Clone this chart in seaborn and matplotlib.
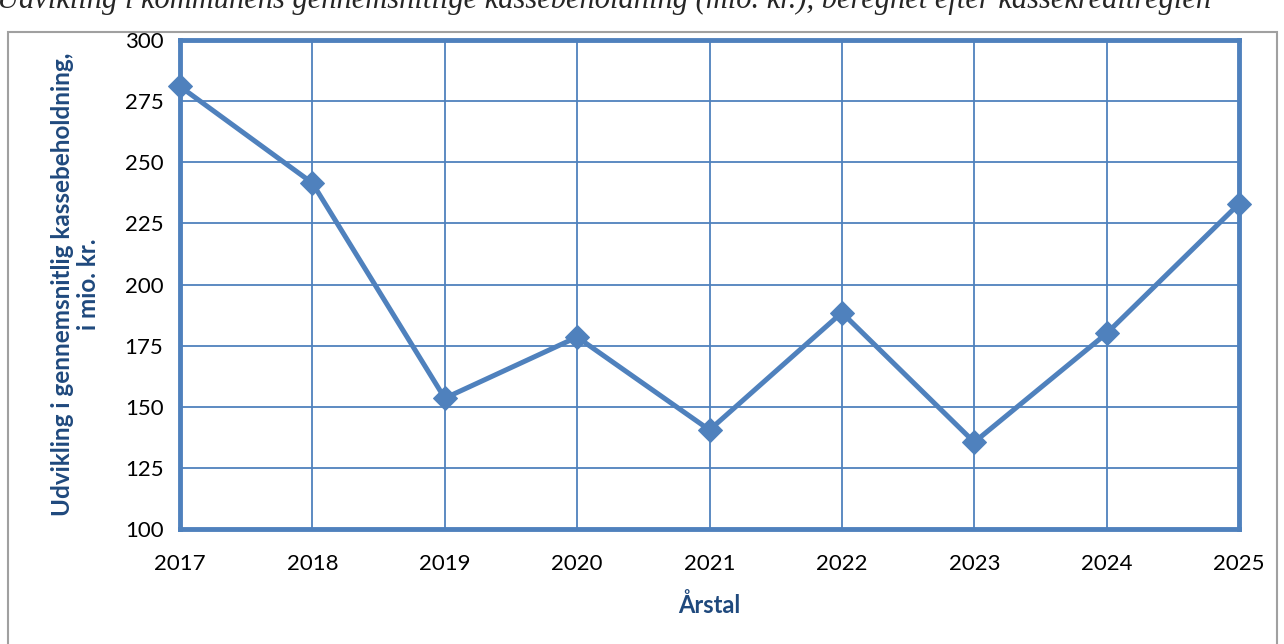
import matplotlib
matplotlib.use("Agg")
import matplotlib.pyplot as plt
import seaborn as sns
import pandas as pd
from matplotlib.patches import Rectangle

# data
years = [2017, 2018, 2019, 2020, 2021, 2022, 2023, 2024, 2025]
kasse = [281, 241.5, 153.5, 178.5, 140.5, 188.5, 135.5, 180, 233]
yticks = [100, 125, 150, 175, 200, 225, 250, 275, 300]

title = "Udvikling i kommunens gennemsnitlige kassebeholdning (mio. kr.), beregnet efter kassekreditreglen"
xlabel = "Årstal"
ylabel = "Udvikling i gennemsnitlig kassebeholdning,\ni mio. kr."

blue = "#4F81BD"
dark = "#1F497D"

sns.set_style("white")
plt.rcParams["font.family"] = ["Lato", "DejaVu Sans"]

df = pd.DataFrame({"year": years, "value": kasse})

fig = plt.figure(figsize=(12.84, 6.44), dpi=100)
ax = fig.add_axes([180 / 1284, 115 / 644, 1059 / 1284, 489 / 644])

sns.lineplot(data=df, x="year", y="value", ax=ax, color=blue, lw=3.6,
             marker="D", markersize=12, markeredgecolor=blue, zorder=5,
             clip_on=False)

ax.set_xlim(years[0], years[-1])
ax.set_ylim(yticks[0], yticks[-1])
ax.set_xticks(years)
ax.set_yticks(yticks)
ax.grid(True, color=blue, lw=1.3)
ax.set_axisbelow(True)
for s in ax.spines.values():
    s.set_visible(True)
    s.set_color(blue)
    s.set_linewidth(3.5)

ax.tick_params(axis="both", which="both", direction="out", length=6, width=1.2,
               color="#868686", labelsize=16, labelcolor="black")
ax.tick_params(axis="x", pad=12)
ax.tick_params(axis="y", pad=6)

ax.set_xlabel(xlabel, fontsize=17, fontweight="bold", color=dark, labelpad=14)
ax.set_ylabel(ylabel, fontsize=17.5, fontweight="bold", color=dark, labelpad=18,
              linespacing=1.15)

# outer chart-area frame (runs off the bottom of the image)
fig.patches.append(Rectangle((8 / 1284, -0.05), 1269 / 1284, 1.05 - 32 / 644,
                             transform=fig.transFigure, fill=False,
                             edgecolor="#A0A0A0", lw=1.5))

# heading cut off at the top edge, as in the source
fig.text(-0.002, 1 - 8 / 644, title, fontsize=22, style="italic",
         family=["Liberation Serif", "DejaVu Serif"], va="baseline", ha="left")

fig.savefig("out.png", dpi=100)
